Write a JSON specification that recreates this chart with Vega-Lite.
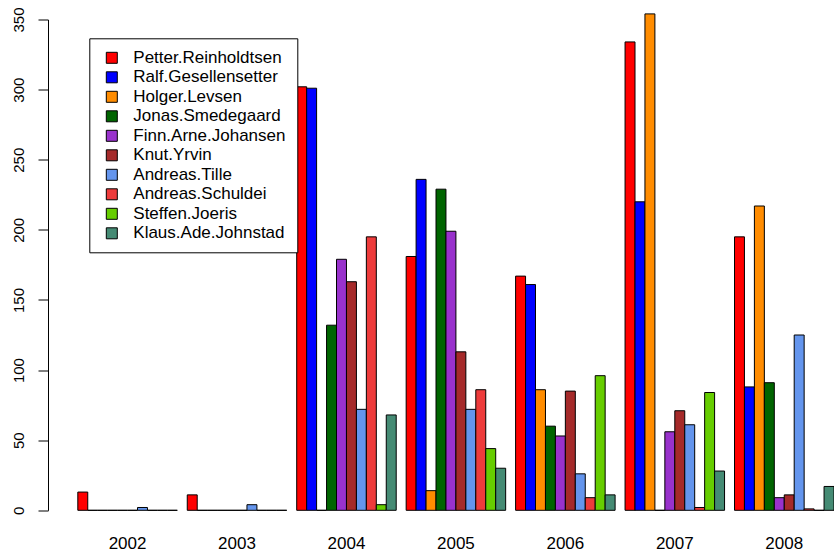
{
  "$schema": "https://vega.github.io/schema/vega-lite/v6.json",
  "width": 786,
  "height": 490.8,
  "autosize": {"type": "none"},
  "padding": {"left": 48, "top": 19.5, "right": 0, "bottom": 42.7},
  "background": "white",
  "config": {
    "view": {"stroke": null},
    "font": "Liberation Sans",
    "axis": {"labelColor": "black", "labelFont": "Liberation Sans", "grid": false, "title": null},
    "legend": {"labelFont": "Liberation Sans", "labelColor": "black"}
  },
  "data": {
    "values": [
      {"year": "2002", "name": "Petter.Reinholdtsen", "count": 13},
      {"year": "2002", "name": "Ralf.Gesellensetter", "count": 0},
      {"year": "2002", "name": "Holger.Levsen", "count": 0},
      {"year": "2002", "name": "Jonas.Smedegaard", "count": 0},
      {"year": "2002", "name": "Finn.Arne.Johansen", "count": 0},
      {"year": "2002", "name": "Knut.Yrvin", "count": 0},
      {"year": "2002", "name": "Andreas.Tille", "count": 2},
      {"year": "2002", "name": "Andreas.Schuldei", "count": 0},
      {"year": "2002", "name": "Steffen.Joeris", "count": 0},
      {"year": "2002", "name": "Klaus.Ade.Johnstad", "count": 0},
      {"year": "2003", "name": "Petter.Reinholdtsen", "count": 11},
      {"year": "2003", "name": "Ralf.Gesellensetter", "count": 0},
      {"year": "2003", "name": "Holger.Levsen", "count": 0},
      {"year": "2003", "name": "Jonas.Smedegaard", "count": 0},
      {"year": "2003", "name": "Finn.Arne.Johansen", "count": 0},
      {"year": "2003", "name": "Knut.Yrvin", "count": 0},
      {"year": "2003", "name": "Andreas.Tille", "count": 4},
      {"year": "2003", "name": "Andreas.Schuldei", "count": 0},
      {"year": "2003", "name": "Steffen.Joeris", "count": 0},
      {"year": "2003", "name": "Klaus.Ade.Johnstad", "count": 0},
      {"year": "2004", "name": "Petter.Reinholdtsen", "count": 302},
      {"year": "2004", "name": "Ralf.Gesellensetter", "count": 301},
      {"year": "2004", "name": "Holger.Levsen", "count": 0},
      {"year": "2004", "name": "Jonas.Smedegaard", "count": 132},
      {"year": "2004", "name": "Finn.Arne.Johansen", "count": 179},
      {"year": "2004", "name": "Knut.Yrvin", "count": 163},
      {"year": "2004", "name": "Andreas.Tille", "count": 72},
      {"year": "2004", "name": "Andreas.Schuldei", "count": 195},
      {"year": "2004", "name": "Steffen.Joeris", "count": 4},
      {"year": "2004", "name": "Klaus.Ade.Johnstad", "count": 68},
      {"year": "2005", "name": "Petter.Reinholdtsen", "count": 181},
      {"year": "2005", "name": "Ralf.Gesellensetter", "count": 236},
      {"year": "2005", "name": "Holger.Levsen", "count": 14},
      {"year": "2005", "name": "Jonas.Smedegaard", "count": 229},
      {"year": "2005", "name": "Finn.Arne.Johansen", "count": 199},
      {"year": "2005", "name": "Knut.Yrvin", "count": 113},
      {"year": "2005", "name": "Andreas.Tille", "count": 72},
      {"year": "2005", "name": "Andreas.Schuldei", "count": 86},
      {"year": "2005", "name": "Steffen.Joeris", "count": 44},
      {"year": "2005", "name": "Klaus.Ade.Johnstad", "count": 30},
      {"year": "2006", "name": "Petter.Reinholdtsen", "count": 167},
      {"year": "2006", "name": "Ralf.Gesellensetter", "count": 161},
      {"year": "2006", "name": "Holger.Levsen", "count": 86},
      {"year": "2006", "name": "Jonas.Smedegaard", "count": 60},
      {"year": "2006", "name": "Finn.Arne.Johansen", "count": 53},
      {"year": "2006", "name": "Knut.Yrvin", "count": 85},
      {"year": "2006", "name": "Andreas.Tille", "count": 26},
      {"year": "2006", "name": "Andreas.Schuldei", "count": 9},
      {"year": "2006", "name": "Steffen.Joeris", "count": 96},
      {"year": "2006", "name": "Klaus.Ade.Johnstad", "count": 11},
      {"year": "2007", "name": "Petter.Reinholdtsen", "count": 334},
      {"year": "2007", "name": "Ralf.Gesellensetter", "count": 220},
      {"year": "2007", "name": "Holger.Levsen", "count": 354},
      {"year": "2007", "name": "Jonas.Smedegaard", "count": 0},
      {"year": "2007", "name": "Finn.Arne.Johansen", "count": 56},
      {"year": "2007", "name": "Knut.Yrvin", "count": 71},
      {"year": "2007", "name": "Andreas.Tille", "count": 61},
      {"year": "2007", "name": "Andreas.Schuldei", "count": 2},
      {"year": "2007", "name": "Steffen.Joeris", "count": 84},
      {"year": "2007", "name": "Klaus.Ade.Johnstad", "count": 28},
      {"year": "2008", "name": "Petter.Reinholdtsen", "count": 195},
      {"year": "2008", "name": "Ralf.Gesellensetter", "count": 88},
      {"year": "2008", "name": "Holger.Levsen", "count": 217},
      {"year": "2008", "name": "Jonas.Smedegaard", "count": 91},
      {"year": "2008", "name": "Finn.Arne.Johansen", "count": 9},
      {"year": "2008", "name": "Knut.Yrvin", "count": 11},
      {"year": "2008", "name": "Andreas.Tille", "count": 125},
      {"year": "2008", "name": "Andreas.Schuldei", "count": 1},
      {"year": "2008", "name": "Steffen.Joeris", "count": 0},
      {"year": "2008", "name": "Klaus.Ade.Johnstad", "count": 17}
    ]
  },
  "mark": {"type": "bar", "stroke": "black", "strokeWidth": 1, "orient": "vertical"},
  "encoding": {
    "x": {
      "field": "year",
      "type": "nominal",
      "scale": {"paddingInner": 0.0909, "paddingOuter": 0.1362, "align": 1},
      "axis": {
        "labelAngle": 0,
        "labelFontSize": 17,
        "ticks": false,
        "tickSize": 0,
        "domain": false,
        "labelPadding": 38,
        "labelBaseline": "alphabetic",
        "labelAlign": "center"
      }
    },
    "xOffset": {
      "field": "name",
      "type": "nominal",
      "scale": {
        "domain": ["Petter.Reinholdtsen", "Ralf.Gesellensetter", "Holger.Levsen", "Jonas.Smedegaard", "Finn.Arne.Johansen", "Knut.Yrvin", "Andreas.Tille", "Andreas.Schuldei", "Steffen.Joeris", "Klaus.Ade.Johnstad"],
        "paddingInner": 0,
        "paddingOuter": 0
      }
    },
    "y": {
      "field": "count",
      "type": "quantitative",
      "stack": null,
      "scale": {"domain": [0, 350], "nice": false, "zero": true},
      "axis": {
        "values": [0, 50, 100, 150, 200, 250, 300, 350],
        "labelFontSize": 15,
        "labelAngle": 270,
        "labelAlign": "center",
        "labelBaseline": "alphabetic",
        "labelPadding": 15,
        "tickSize": 10,
        "tickColor": "black",
        "tickWidth": 1,
        "domainColor": "black",
        "domainWidth": 1
      }
    },
    "color": {
      "field": "name",
      "type": "nominal",
      "scale": {
        "domain": ["Petter.Reinholdtsen", "Ralf.Gesellensetter", "Holger.Levsen", "Jonas.Smedegaard", "Finn.Arne.Johansen", "Knut.Yrvin", "Andreas.Tille", "Andreas.Schuldei", "Steffen.Joeris", "Klaus.Ade.Johnstad"],
        "range": ["#FF0000", "#0000FF", "#FF8C00", "#006400", "#9932CC", "#A52A2A", "#6495ED", "#EE3B3B", "#66CD00", "#458B74"]
      },
      "legend": {
        "title": null,
        "orient": "none",
        "legendX": 41.3,
        "legendY": 18.8,
        "strokeColor": "black",
        "fillColor": "white",
        "padding": 11,
        "symbolType": "square",
        "symbolSize": 121,
        "symbolStrokeColor": "black",
        "symbolStrokeWidth": 1,
        "symbolOffset": 3,
        "labelFontSize": 17,
        "labelOffset": 13,
        "rowPadding": 1.5,
        "labelLimit": 400
      }
    }
  }
}
